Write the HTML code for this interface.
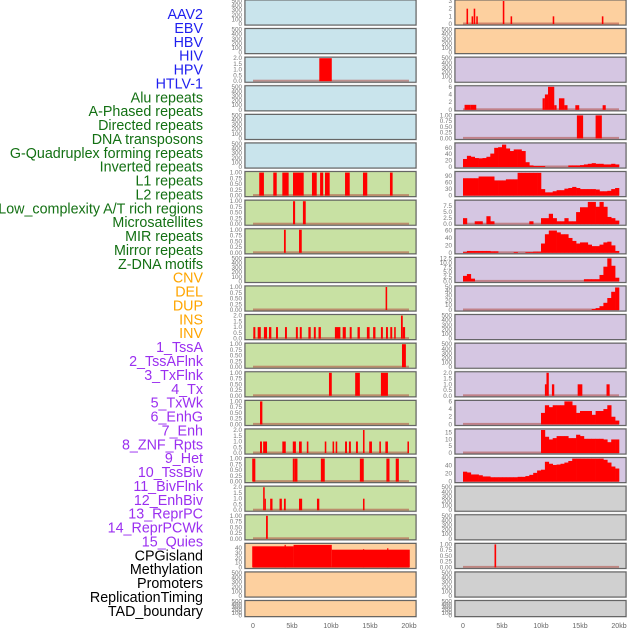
<!DOCTYPE html>
<html><head><meta charset="utf-8">
<style>
html,body{margin:0;padding:0;background:#fff;}
svg{display:block;font-family:"Liberation Sans",sans-serif;}
</style></head>
<body>
<svg id="chart" width="630" height="630" viewBox="0 0 630 630" xmlns="http://www.w3.org/2000/svg"></svg>
<script>
// ---- labels ----
const trackLabels = ["AAV2","EBV","HBV","HIV","HPV","HTLV-1","Alu repeats","A-Phased repeats","Directed repeats","DNA transposons","G-Quadruplex forming repeats","Inverted repeats","L1 repeats","L2 repeats","Low_complexity A/T rich regions","Microsatellites","MIR repeats","Mirror repeats","Z-DNA motifs","CNV","DEL","DUP","INS","INV","1_TssA","2_TssAFlnk","3_TxFlnk","4_Tx","5_TxWk","6_EnhG","7_Enh","8_ZNF_Rpts","9_Het","10_TssBiv","11_BivFlnk","12_EnhBiv","13_ReprPC","14_ReprPCWk","15_Quies","CPGisland","Methylation","Promoters","ReplicationTiming","TAD_boundary"];
const labelColors = ["#1f1fef","#1f1fef","#1f1fef","#1f1fef","#1f1fef","#1f1fef","#137013","#137013","#137013","#137013","#137013","#137013","#137013","#137013","#137013","#137013","#137013","#137013","#137013","#ffa500","#ffa500","#ffa500","#ffa500","#ffa500","#9b2ff0","#9b2ff0","#9b2ff0","#9b2ff0","#9b2ff0","#9b2ff0","#9b2ff0","#9b2ff0","#9b2ff0","#9b2ff0","#9b2ff0","#9b2ff0","#9b2ff0","#9b2ff0","#9b2ff0","#000","#000","#000","#000","#000"];
const xTickValues = [0,5,10,15,20];
const xTickLabels = ["0","5kb","10kb","15kb","20kb"];
const emptyTicks = [0,100,200,300,400,500];

// ---- sparse bar data: [startKb, endKb, value] ----
const L_hiv = [[8.5,10.1,2]];
const L_l1 = [[0.8,1.4,1],[2.6,3.04,1],[3.76,4.57,1],[5.13,6.5,1],[7.56,8.17,1],[8.6,9.0,1],[9.23,9.83,1],[11.8,12.4,1],[14.1,14.65,1],[17.56,17.9,1]];
const L_l2 = [[5.13,5.4,1],[6.4,6.76,1]];
const L_lowc = [[3.97,4.2,1],[5.9,6.25,1]];
const L_micro = [[17.0,17.2,1]];
const L_mir = [[0.04,0.3,1],[0.6,1.0,1],[1.4,1.8,1],[2.05,2.35,1],[2.95,3.2,1],[4.1,4.35,1],[5.5,5.75,1],[6.0,6.25,1],[7.1,7.4,1],[7.8,8.05,1],[8.4,8.7,1],[10.5,11.2,1],[11.5,11.9,1],[12.4,12.65,1],[13.4,13.7,1],[14.6,14.95,1],[15.4,15.7,1],[16.4,16.65,1],[17.05,17.3,1],[17.6,17.85,1],[18.1,18.3,1],[18.97,19.2,2],[19.2,19.5,1]];
const L_mirror = [[19.1,19.6,1]];
const L_zdna = [[9.74,10.1,1],[13.1,13.7,1],[16.4,17.3,1]];
const L_cnv = [[0.9,1.2,1]];
const L_del = [[0.9,1.15,1],[1.3,1.8,1],[3.76,4.2,1],[5.1,5.5,1],[5.9,6.25,1],[6.9,7.1,1],[9.2,9.4,1],[10.2,10.4,1],[10.6,10.8,1],[11.8,12.05,1],[12.3,12.55,1],[13.2,13.45,1],[14.1,14.3,2],[14.9,15.25,1],[16.2,16.4,1],[16.97,17.3,1],[19.8,20.0,1]];
const L_dup = [[-0.1,0.3,1],[5.1,5.35,1],[5.35,5.7,1],[8.7,9.2,1],[13.7,14.2,1],[17.1,17.5,1],[18.3,18.7,1]];
const L_ins = [[1.3,1.5,2],[1.5,1.62,1],[2.2,2.5,1],[3.4,3.7,1],[3.97,4.2,1],[5.9,6.3,1],[8.2,8.5,1],[14.1,14.3,1]];
const L_inv = [[1.67,1.9,1]];
const L_cpg = [[-0.1,5.2,44],[5.2,10.1,47],[10.1,20.1,37],[4.05,4.2,47],[14.1,14.25,38],[17.2,17.35,40]];
const R_aav = [[0.45,0.65,2],[1.1,1.3,1],[1.37,1.57,2],[1.7,1.9,1],[5.1,5.3,3],[6.1,6.3,1],[11.5,11.7,1],[17.8,18.0,1]];
const R_alu = [[0.2,1.0,1.3],[1.0,1.7,1.3],[10.2,10.5,3],[10.5,10.9,4],[10.9,11.7,6],[11.7,12.0,1.2],[12.3,13.0,3],[13.0,13.4,1.2],[14.4,14.9,1.2],[17.9,18.3,1.2]];
const R_aph = [[14.6,15.4,1],[17.0,17.8,1]];
const R_txflnk = [[10.5,10.7,1],[10.7,11.0,2],[11.4,11.7,1],[14.7,15.3,1],[18.4,18.8,1]];
const R_meth = [[4.04,4.25,1]];

// ---- dense binned data: 40 bins of 0.5kb over 0–20kb ----
const R_gquad = [25,35,32,28,27,28,32,42,60,62,70,58,50,55,55,50,15,5,3,3,3,0,0,0,0,0,0,5,5,5,6,8,10,12,10,10,8,8,10,8];
const R_inv = [80,80,80,80,88,88,88,88,70,70,70,75,75,75,105,105,105,105,105,105,30,15,15,20,25,25,32,35,40,35,30,30,30,30,28,20,20,22,30,35];
const R_l1 = [2.5,0,0,1.2,1.2,0,3.3,1.2,0,0,0,0,0,0,0,0,0,1.2,0,0,2.5,2.5,4.3,2.5,1.2,1.2,2.5,1.2,1.2,5,7,7,9.2,9.2,7.2,9.2,7.2,3,2.5,1.5];
const R_l2 = [2,5,5,5,5,5,5,4,4,0,0,0,0,2,0,0,2,2,3,3,25,50,60,60,55,50,50,40,32,25,28,28,22,18,18,22,28,30,20,5];
const R_lowc = [3,4,1.5,0,0,0,0,0,0,0,0,0,0,0,0,0,0,0,0,0,0,0,0,0,0,0,0,0,0,0,0,1.2,1.2,1.2,1.2,3.5,8,12.5,8.5,2];
const R_micro = [0,0,0,0,0,0,0,0,0,0,0,0,0,0,0,0,0,0,0,0,0,0,0,0,0,0,0,0,0,0,0,0,0,2,4,8,15,25,38,47];
const R_enhg = [0,0,0,0,0,0,0,0,0,0,0,0,0,0,0,0,0,0,0,0,3,5,4.5,5,5,5,6,6,5,3,3.5,3.5,3.5,2.5,3.5,3.5,4,5,2,1];
const R_het = [0,0,0,0,0,0,0,0,0,0,0,0,0,0,0,0,0,0,0,0,17,12,10,11,12.5,12.5,12.5,11,11,13.5,12.5,10.5,10.5,10.5,10.5,10.5,10,8,10,10];
const R_tssbiv = [25,23,18,18,16,13,13,11,11,11,11,11,11,11,12,12,14,17,22,28,30,50,45,42,43,45,48,52,58,58,58,58,58,58,58,58,55,48,38,33];

// ---- panel layout definitions ----
const panels = [
 [0,0,"blue",500,emptyTicks,null,null,null],
 [0,1,"blue",500,emptyTicks,null,null,null],
 [0,2,"blue",2,[0,0.5,1,1.5,2],["0.0","0.5","1.0","1.5","2.0"],L_hiv,null],
 [0,3,"blue",500,emptyTicks,null,null,null],
 [0,4,"blue",500,emptyTicks,null,null,null],
 [0,5,"blue",500,emptyTicks,null,null,null],
 [0,6,"green",1,[0,0.25,0.5,0.75,1],null,L_l1,null],
 [0,7,"green",1,[0,0.25,0.5,0.75,1],null,L_l2,null],
 [0,8,"green",1,[0,0.25,0.5,0.75,1],null,L_lowc,null],
 [0,9,"green",500,emptyTicks,null,null,null],
 [0,10,"green",1,[0,0.25,0.5,0.75,1],null,L_micro,null],
 [0,11,"green",2,[0,0.5,1,1.5,2],["0.0","0.5","1.0","1.5","2.0"],L_mir,null],
 [0,12,"green",1,[0,0.25,0.5,0.75,1],null,L_mirror,null],
 [0,13,"green",1,[0,0.25,0.5,0.75,1],null,L_zdna,null],
 [0,14,"green",1,[0,0.25,0.5,0.75,1],null,L_cnv,null],
 [0,15,"green",2,[0,0.5,1,1.5,2],["0.0","0.5","1.0","1.5","2.0"],L_del,null],
 [0,16,"green",1,[0,0.25,0.5,0.75,1],null,L_dup,null],
 [0,17,"green",2,[0,0.5,1,1.5,2],["0.0","0.5","1.0","1.5","2.0"],L_ins,null],
 [0,18,"green",1,[0,0.25,0.5,0.75,1],null,L_inv,null],
 [0,19,"orange",48,[0,10,20,30,40],null,L_cpg,null],
 [0,20,"orange",500,emptyTicks,null,null,null],
 [0,21,"orange",500,emptyTicks,null,null,null],
 [1,0,"orange",3,[0,1,2,3],null,R_aav,null],
 [1,1,"orange",500,emptyTicks,null,null,null],
 [1,2,"purple",500,emptyTicks,null,null,null],
 [1,3,"purple",6,[0,2,4,6],null,R_alu,null],
 [1,4,"purple",1,[0,0.25,0.5,0.75,1],null,R_aph,null],
 [1,5,"purple",72,[0,20,40,60],null,null,R_gquad],
 [1,6,"purple",106,[0,30,60,90],null,null,R_inv],
 [1,7,"purple",9.5,[0,2.5,5,7.5],["0.0","2.5","5.0","7.5"],null,R_l1],
 [1,8,"purple",62,[0,20,40,60],null,null,R_l2],
 [1,9,"purple",12.5,[0,2.5,5,7.5,10,12.5],["0.0","2.5","5.0","7.5","10.0","12.5"],null,R_lowc],
 [1,10,"purple",48,[0,10,20,30,40,48],["0","10","20","30","40","50"],null,R_micro],
 [1,11,"purple",500,emptyTicks,null,null,null],
 [1,12,"purple",500,emptyTicks,null,null,null],
 [1,13,"purple",2,[0,0.5,1,1.5,2],["0.0","0.5","1.0","1.5","2.0"],R_txflnk,null],
 [1,14,"purple",6,[0,2,4,6],null,null,R_enhg],
 [1,15,"purple",17,[0,5,10,15],null,null,R_het],
 [1,16,"purple",58,[0,20,40],null,null,R_tssbiv],
 [1,17,"gray",500,emptyTicks,null,null,null],
 [1,18,"gray",500,emptyTicks,null,null,null],
 [1,19,"gray",1,[0,0.25,0.5,0.75,1],null,R_meth,null],
 [1,20,"gray",500,emptyTicks,null,null,null],
 [1,21,"gray",500,emptyTicks,null,null,null]
];
const fills = {blue:"#c9e4ec",green:"#c8e1a3",orange:"#fdd09f",purple:"#d5c6e2",gray:"#d0d0d0"};

const NS = "http://www.w3.org/2000/svg";
const svg = document.getElementById("chart");
function mk(tag, attrs, parent){
  const e = document.createElementNS(NS, tag);
  for (const k in attrs) e.setAttribute(k, attrs[k]);
  (parent||svg).appendChild(e);
  return e;
}
const boxX = [245,455], boxW = 171, zeroX = [253,463], pxPerKb = 7.8;
function xScale(col, kb){ return zeroX[col] + kb*pxPerKb; }
function rowTop(r){ return r*28.6; }
function rowH(r){ return r===21 ? 16 : 25; }

trackLabels.forEach((t,i)=>{
  const el = mk("text",{x:203,y:14+i*13.88+5,"text-anchor":"end","font-size":"14.3",fill:labelColors[i]});
  el.textContent = t;
  
  
});

panels.forEach(p=>{
  const [col,row,color,ymax,ticks,tl,sparse,dense] = p;
  const t = rowTop(row), h = rowH(row), bx = boxX[col];
  const g = mk("g",{});
  
  
  mk("rect",{x:bx-0.5,y:t-0.5,width:boxW+1,height:h+1,fill:"none",stroke:"#ccc","stroke-width":"1"},g);
  const bg = mk("rect",{x:bx,y:t,width:boxW,height:h,fill:fills[color]},g);
  
  
  const y0 = t+h-1, ph = h-2;
  function yScale(v){ return y0 - Math.min(v,ymax)/ymax*ph; }
  ticks.forEach((v,i)=>{
    const tx = mk("text",{x:bx-3,y:yScale(v)+2,"text-anchor":"end","font-size":"6.3",fill:"#777"},g);
    tx.textContent = tl ? tl[i] : (ymax===1 ? v.toFixed(2) : String(v));
    
    
  });
  if (sparse || dense){
    const base = mk("rect",{x:xScale(col,0),y:y0-1.5,width:20*pxPerKb,height:2,fill:"#b0483f","fill-opacity":"0.55"},g);
    
    
  }
  if (sparse){
    sparse.forEach(b=>{
      const x1 = xScale(col,b[0]), x2 = xScale(col,b[1]);
      const r = mk("rect",{x:x1,y:yScale(b[2]),width:Math.max(1.2,x2-x1),height:y0-yScale(b[2]),fill:"#ff0000"},g);
      
      
    });
  }
  if (dense){
    dense.forEach((v,i)=>{
      if (v<=0) return;
      const x1 = xScale(col,i*0.5), x2 = xScale(col,(i+1)*0.5);
      const r = mk("rect",{x:x1,y:yScale(v),width:x2-x1+0.3,height:y0-yScale(v),fill:"#ff0000"},g);
      
      
    });
  }
  mk("rect",{x:bx,y:t,width:boxW,height:h,fill:"none",stroke:"#5a5a5a","stroke-width":"1"},g);
});

[0,1].forEach(col=>{
  xTickValues.forEach((v,i)=>{
    const tx = mk("text",{x:xScale(col,v),y:628,"text-anchor":"middle","font-size":"7",fill:"#666"});
    tx.textContent = xTickLabels[i];
    
    
  });
});
</script>
</body></html>
